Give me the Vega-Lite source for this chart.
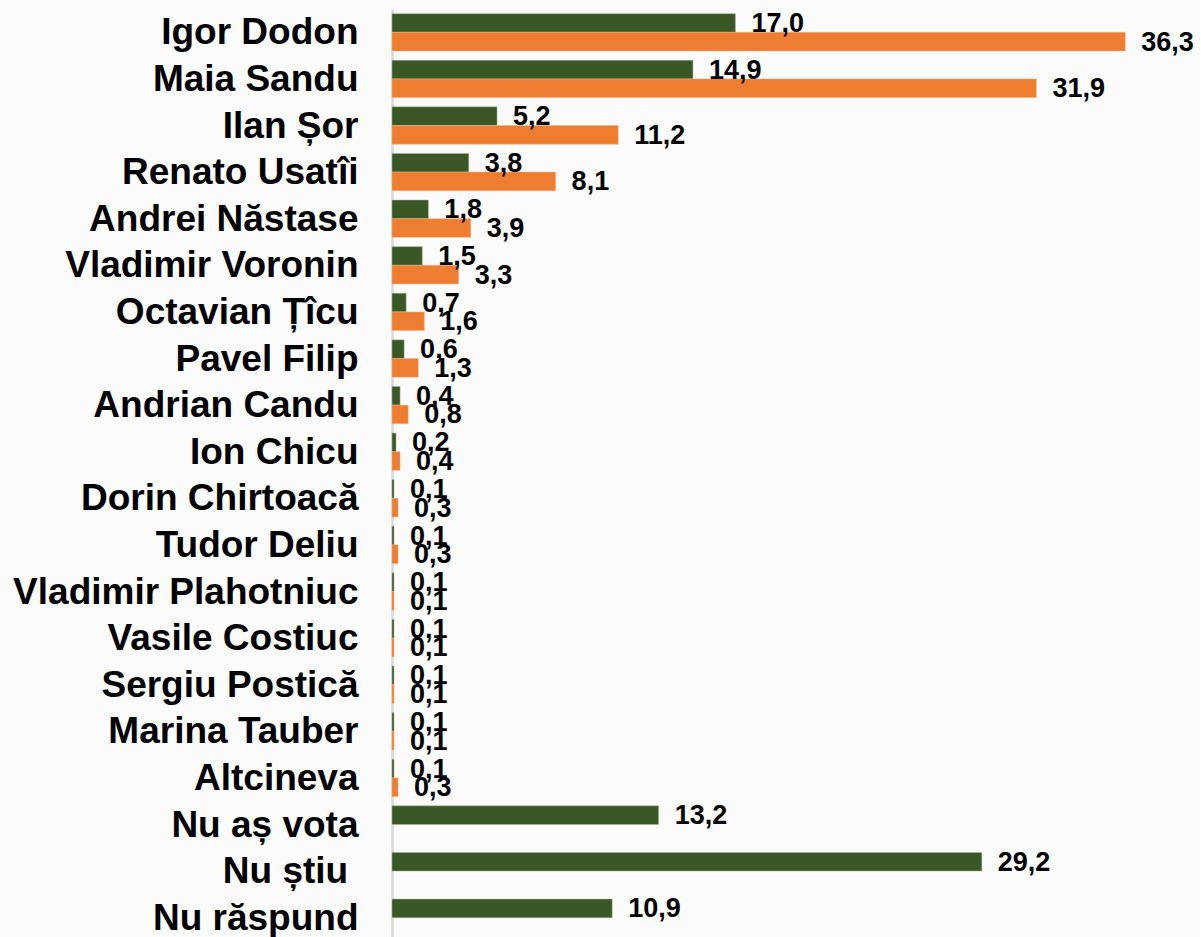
{
  "$schema": "https://vega.github.io/schema/vega-lite/v6.json",
  "autosize": "none",
  "padding": {"left": 392, "top": 9, "right": 0, "bottom": 0},
  "width": 808,
  "height": 932,
  "background": "#fbfbfb",
  "config": {
    "view": {"stroke": null},
    "locale": {"number": {"decimal": ",", "thousands": ".", "grouping": [3], "currency": ["", ""]}}
  },
  "data": {"values": [
    {"name": "Igor Dodon", "series": "A", "value": 17.0},
    {"name": "Igor Dodon", "series": "B", "value": 36.3},
    {"name": "Maia Sandu", "series": "A", "value": 14.9},
    {"name": "Maia Sandu", "series": "B", "value": 31.9},
    {"name": "Ilan Șor", "series": "A", "value": 5.2},
    {"name": "Ilan Șor", "series": "B", "value": 11.2},
    {"name": "Renato Usatîi", "series": "A", "value": 3.8},
    {"name": "Renato Usatîi", "series": "B", "value": 8.1},
    {"name": "Andrei Năstase", "series": "A", "value": 1.8},
    {"name": "Andrei Năstase", "series": "B", "value": 3.9},
    {"name": "Vladimir Voronin", "series": "A", "value": 1.5},
    {"name": "Vladimir Voronin", "series": "B", "value": 3.3},
    {"name": "Octavian Țîcu", "series": "A", "value": 0.7},
    {"name": "Octavian Țîcu", "series": "B", "value": 1.6},
    {"name": "Pavel Filip", "series": "A", "value": 0.6},
    {"name": "Pavel Filip", "series": "B", "value": 1.3},
    {"name": "Andrian Candu", "series": "A", "value": 0.4},
    {"name": "Andrian Candu", "series": "B", "value": 0.8},
    {"name": "Ion Chicu", "series": "A", "value": 0.2},
    {"name": "Ion Chicu", "series": "B", "value": 0.4},
    {"name": "Dorin Chirtoacă", "series": "A", "value": 0.1},
    {"name": "Dorin Chirtoacă", "series": "B", "value": 0.3},
    {"name": "Tudor Deliu", "series": "A", "value": 0.1},
    {"name": "Tudor Deliu", "series": "B", "value": 0.3},
    {"name": "Vladimir Plahotniuc", "series": "A", "value": 0.1},
    {"name": "Vladimir Plahotniuc", "series": "B", "value": 0.1},
    {"name": "Vasile Costiuc", "series": "A", "value": 0.1},
    {"name": "Vasile Costiuc", "series": "B", "value": 0.1},
    {"name": "Sergiu Postică", "series": "A", "value": 0.1},
    {"name": "Sergiu Postică", "series": "B", "value": 0.1},
    {"name": "Marina Tauber", "series": "A", "value": 0.1},
    {"name": "Marina Tauber", "series": "B", "value": 0.1},
    {"name": "Altcineva", "series": "A", "value": 0.1},
    {"name": "Altcineva", "series": "B", "value": 0.3},
    {"name": "Nu aș vota", "series": "A", "value": 13.2},
    {"name": "Nu știu\u00a0\u200b", "series": "A", "value": 29.2},
    {"name": "Nu răspund", "series": "A", "value": 10.9}
  ]},
  "encoding": {
    "y": {
      "field": "name", "type": "nominal", "sort": null, "title": null,
      "scale": {"paddingInner": 0.2, "paddingOuter": 0.1},
      "axis": {
        "ticks": false, "domain": true, "domainColor": "#d9d9d9", "domainWidth": 2.5,
        "labelFont": "Liberation Sans", "labelFontSize": 37, "labelFontWeight": "bold",
        "labelColor": "#000000", "labelPadding": 34, "labelLimit": 0, "labelOffset": 1
      }
    },
    "yOffset": {"field": "series", "type": "nominal", "scale": {"domain": ["A", "B"], "paddingInner": 0}},
    "x": {
      "field": "value", "type": "quantitative", "title": null,
      "scale": {"domain": [0, 40], "nice": false},
      "axis": null
    }
  },
  "layer": [
    {
      "mark": {"type": "bar", "strokeWidth": 1, "strokeOpacity": 0.5},
      "encoding": {
        "color": {"field": "series", "type": "nominal", "legend": null,
          "scale": {"domain": ["A", "B"], "range": ["#3b5726", "#ed7d31"]}},
        "stroke": {"field": "series", "type": "nominal", "legend": null,
          "scale": {"domain": ["A", "B"], "range": ["#a9b59d", "#f4b183"]}}
      }
    },
    {
      "mark": {"type": "text", "align": "left", "baseline": "middle", "dx": 16, "dy": 1,
        "font": "Liberation Sans", "fontSize": 27, "fontWeight": "bold", "color": "#000000"},
      "encoding": {
        "text": {"field": "value", "type": "quantitative", "format": ".1f"}
      }
    }
  ]
}
